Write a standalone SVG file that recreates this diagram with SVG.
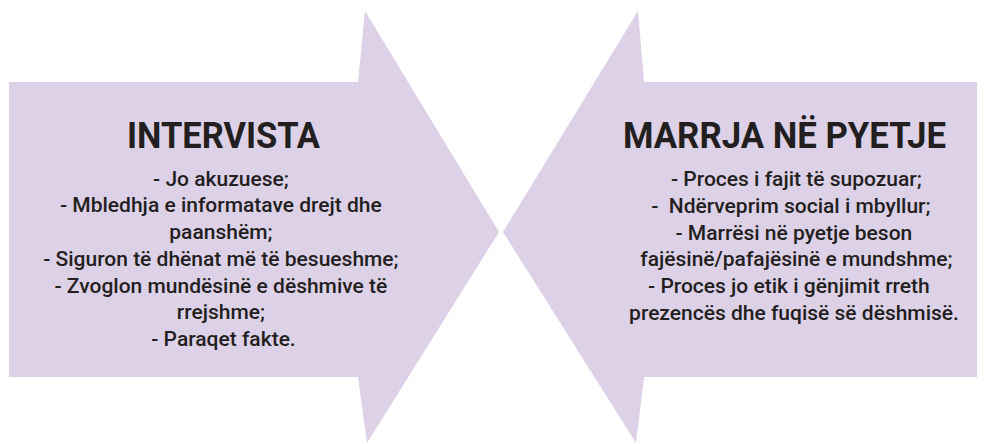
<svg xmlns="http://www.w3.org/2000/svg" width="986" height="444" viewBox="0 0 986 444">
  <style>
    .arrow { fill: #ddd1e8; }
    .title { font-family: Roboto, "Liberation Sans", sans-serif; font-weight: 700; font-size: 36px; fill: #231f20; text-anchor: middle; }
    .body { font-family: Roboto, "Liberation Sans", sans-serif; font-weight: 500; font-size: 21px; fill: #231f20; text-anchor: middle; }
  </style>
  <rect width="986" height="444" fill="#ffffff"/>

  <!-- left arrow: pointing right -->
  <g id="intervista">
    <polygon class="arrow" points="9,82 358,82 365,11 499,232 367,443 358,377 9,377"/>
    <text class="title" x="223.5" y="148" textLength="193" lengthAdjust="spacingAndGlyphs">INTERVISTA</text>
    <text class="body" x="223.5">
      <tspan x="223.5" y="185.7">- Jo akuzuese;</tspan>
      <tspan x="223.5" y="212.4">- Mbledhja e informatave drejt dhe</tspan>
      <tspan x="223.5" y="239.1">paanshëm;</tspan>
      <tspan x="223.5" y="265.8">- Siguron të dhënat më të besueshme;</tspan>
      <tspan x="223.5" y="292.5">- Zvoglon mundësinë e dëshmive të</tspan>
      <tspan x="223.5" y="319.2">rrejshme;</tspan>
      <tspan x="223.5" y="346">- Paraqet fakte.</tspan>
    </text>
  </g>

  <!-- right arrow: pointing left -->
  <g id="marrja-ne-pyetje">
    <polygon class="arrow" points="977,82 644,82 638,11 503,232 636,443 644,377 977,377"/>
    <text class="title" x="784.5" y="148" textLength="323" lengthAdjust="spacingAndGlyphs">MARRJA NË PYETJE</text>
    <text class="body" x="795">
      <tspan x="799" y="186">- Proces i fajit të supozuar;</tspan>
      <tspan x="793.5" y="212.8" xml:space="preserve">-  Ndërveprim social i mbyllur;</tspan>
      <tspan x="796.5" y="239.5">- Marrësi në pyetje beson</tspan>
      <tspan x="799" y="266.3">fajësinë/pafajësinë e mundshme;</tspan>
      <tspan x="791.5" y="293">- Proces jo etik i gënjimit rreth</tspan>
      <tspan x="794" y="320">prezencës dhe fuqisë së dëshmisë.</tspan>
    </text>
  </g>

  <g id="connectors"/>
</svg>
